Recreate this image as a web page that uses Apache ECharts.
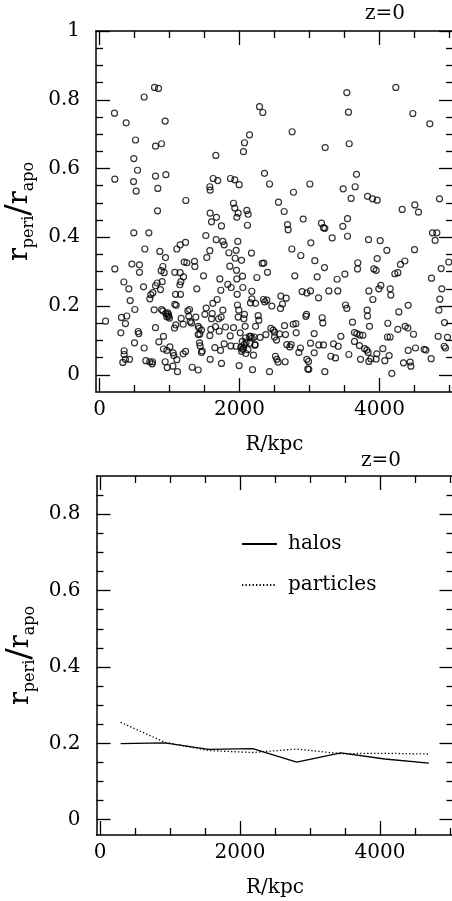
<!DOCTYPE html>
<html>
<head>
<meta charset="utf-8">
<script src="https://cdn.jsdelivr.net/npm/echarts@6/dist/echarts.min.js"></script>
<style>html,body{margin:0;padding:0;background:#fff;}#c{width:452px;height:901px;}</style>
</head>
<body>
<div id="c"></div>
<script>
// ---- data ----
var haloPoints = [
[214,0.761],[381,0.733],[514,0.683],[638,0.808],[786,0.836],[843,0.833],[938,0.738],[800,0.665],[886,0.672],[490,0.629],[219,0.569],[543,0.595],[486,0.562],[524,0.534],[800,0.578],[948,0.582],[833,0.542],[1233,0.507],[1662,0.638],[1576,0.547],[1581,0.537],[1624,0.571],[1690,0.565],[1871,0.571],[1933,0.567],[1995,0.553],[2057,0.649],[2071,0.675],[2143,0.698],[2286,0.780],[2333,0.763],[2357,0.586],[2429,0.555],[2557,0.502],[2752,0.707],[2771,0.531],[3005,0.555],[3224,0.661],[3533,0.821],[3557,0.764],[3567,0.672],[3671,0.583],[3652,0.547],[3481,0.541],[3595,0.513],[3829,0.519],[3900,0.512],[3967,0.508],[4233,0.836],[4476,0.760],[4719,0.730],[4857,0.512],
[86,0.156],[219,0.308],[348,0.270],[305,0.122],[314,0.167],[390,0.171],[371,0.149],[352,0.070],[352,0.059],[333,0.036],[371,0.045],[429,0.045],[419,0.250],[438,0.216],[462,0.322],[490,0.413],[505,0.190],[500,0.093],[552,0.126],[562,0.120],[571,0.320],[571,0.298],[638,0.078],[629,0.256],[648,0.366],[662,0.041],[719,0.038],[752,0.032],[757,0.038],[705,0.413],[719,0.221],[733,0.233],[762,0.239],[781,0.189],[800,0.137],[800,0.259],[824,0.267],[829,0.477],[862,0.359],[881,0.303],[905,0.315],[895,0.271],[924,0.297],[871,0.248],[848,0.096],[886,0.190],[905,0.186],[914,0.112],[943,0.341],[948,0.178],[986,0.170],[962,0.169],[986,0.175],[914,0.075],[962,0.071],[1005,0.081],[938,0.038],[967,0.021],[1048,0.025],[1076,0.298],[1086,0.234],[1076,0.205],[1095,0.202],[1052,0.064],[1062,0.056],[1105,0.366],[1090,0.145],[1071,0.136],[1105,0.044],[1114,0.009],[1152,0.378],[1148,0.262],[1162,0.271],[1152,0.297],[1157,0.234],[1195,0.147],[1167,0.164],[1200,0.285],[1210,0.328],[1248,0.326],[1229,0.385],[1262,0.186],[1286,0.190],[1276,0.170],[1295,0.155],[1195,0.061],[1229,0.068],[1314,0.151],[1324,0.022],[1357,0.330],[1362,0.315],[1376,0.168],[1390,0.250],[1410,0.014],[1410,0.141],[1424,0.136],[1410,0.117],[1433,0.119],[1429,0.093],[1438,0.084],[1457,0.065],[1467,0.069],[1486,0.288],[1505,0.176],[1519,0.405],[1524,0.194],[1533,0.341],[1457,0.130],[1581,0.470],[1600,0.445],[1576,0.361],[1576,0.114],[1581,0.045],[1590,0.132],[1600,0.163],[1610,0.178],[1619,0.208],[1657,0.140],[1648,0.079],[1667,0.393],[1671,0.458],[1681,0.219],[1700,0.163],[1710,0.127],[1719,0.279],[1733,0.246],[1729,0.071],[1743,0.433],[1743,0.033],[1738,0.168],[1762,0.188],[1762,0.388],[1781,0.378],[1781,0.090],[1800,0.139],[1833,0.263],[1848,0.355],[1862,0.316],[1867,0.113],[1876,0.084],[1881,0.254],[1914,0.137],[1914,0.499],[1933,0.485],[1938,0.339],[1952,0.362],[1952,0.083],[1957,0.304],[1962,0.279],[1971,0.203],[1967,0.234],[1981,0.470],[1962,0.458],[1976,0.388],[1981,0.168],[1990,0.188],[1995,0.027],[2010,0.122],[2019,0.080],[2043,0.074],[2057,0.077],[2029,0.333],[2043,0.287],[2048,0.254],[2071,0.176],[2062,0.163],[2081,0.141],[2086,0.107],[2095,0.095],[2105,0.478],[2114,0.435],[2124,0.467],[2143,0.112],[2162,0.112],[2181,0.107],[2210,0.110],[2224,0.088],[2157,0.209],[2176,0.221],[2171,0.354],[2176,0.243],[2186,0.015],[2200,0.057],[2219,0.086],[2229,0.141],[2229,0.208],[2248,0.283],[2267,0.172],[2276,0.159],[2295,0.109],[2324,0.324],[2348,0.325],[2343,0.219],[2362,0.212],[2390,0.217],[2376,0.117],[2400,0.298],[2429,0.009],[2448,0.135],[2481,0.130],[2500,0.124],[2462,0.200],[2500,0.110],[2514,0.054],[2533,0.045],[2529,0.101],[2552,0.037],[2571,0.119],[2586,0.193],[2590,0.229],[2614,0.206],[2638,0.475],[2652,0.038],[2686,0.437],[2695,0.422],[2667,0.223],[2643,0.143],[2657,0.117],[2676,0.088],[2719,0.081],[2738,0.088],[2748,0.366],[2767,0.147],[2790,0.288],[2805,0.149],[2810,0.122],[2848,0.065],[2871,0.078],[2876,0.347],[2895,0.242],[2910,0.453],[2957,0.176],[2948,0.170],[2962,0.238],[2962,0.045],[2986,0.039],[2976,0.017],[2990,0.016],[3014,0.244],[3014,0.092],[3019,0.384],[3067,0.064],[3067,0.120],[3076,0.332],[3110,0.285],[3129,0.224],[3133,0.087],[3171,0.441],[3200,0.428],[3219,0.426],[3181,0.166],[3190,0.151],[3214,0.312],[3219,0.009],[3200,0.087],[3276,0.244],[3305,0.054],[3324,0.398],[3343,0.090],[3371,0.049],[3395,0.278],[3405,0.244],[3410,0.083],[3448,0.112],[3476,0.432],[3505,0.293],[3514,0.203],[3533,0.193],[3543,0.454],[3543,0.403],[3562,0.059],[3614,0.153],[3643,0.097],[3643,0.123],[3676,0.120],[3719,0.116],[3762,0.115],[3686,0.308],[3690,0.326],[3714,0.085],[3729,0.045],[3786,0.076],[3819,0.072],[3838,0.065],[3824,0.188],[3829,0.171],[3843,0.393],[3848,0.244],[3857,0.141],[3848,0.039],[3876,0.047],[3905,0.219],[3919,0.308],[3952,0.304],[3952,0.046],[3962,0.061],[3967,0.338],[3990,0.250],[4010,0.390],[4019,0.260],[4048,0.076],[4076,0.041],[4105,0.362],[4119,0.150],[4152,0.250],[4176,0.004],[4162,0.232],[4114,0.110],[4152,0.110],[4138,0.056],[4219,0.294],[4262,0.297],[4276,0.183],[4262,0.132],[4300,0.321],[4324,0.481],[4343,0.035],[4362,0.331],[4367,0.141],[4405,0.136],[4410,0.202],[4410,0.071],[4438,0.037],[4448,0.025],[4486,0.118],[4500,0.364],[4505,0.494],[4557,0.473],[4514,0.078],[4638,0.074],[4662,0.072],[4738,0.047],[4743,0.281],[4757,0.413],[4819,0.413],[4795,0.391],[4838,0.112],[4848,0.188],[4862,0.220],[4881,0.309],[4890,0.250],[4924,0.083],[4929,0.152],[4943,0.078],[4971,0.109],[4990,0.328],
[2030,0.068],[2065,0.088],[2090,0.062],[2120,0.073],[2150,0.092],[2040,0.097],[1000,0.165],[975,0.180]
];

var binR = [295, 924, 1553, 2182, 2811, 3440, 4069, 4698];
var halosMean = [0.199, 0.201, 0.184, 0.186, 0.151, 0.175, 0.159, 0.148];
var particlesMean = [0.255, 0.203, 0.181, 0.176, 0.185, 0.173, 0.174, 0.172];

var xTickLabels = [0, 2000, 4000];
var xMinorTicks = [500, 1000, 1500, 2500, 3000, 3500, 4500, 5000];
var yTickLabelsTop = [0, 0.2, 0.4, 0.6, 0.8, 1];
var yTickLabelsBottom = [0, 0.2, 0.4, 0.6, 0.8];
var yMinorTicks = [0.05, 0.1, 0.15, 0.25, 0.3, 0.35, 0.45, 0.5, 0.55, 0.65, 0.7, 0.75, 0.85, 0.9, 0.95];

// ---- styling ----
var FONT = 'DejaVu Serif';
var BLACK = '#000';

function lineData(ys) { return binR.map(function (x, i) { return [x, ys[i]]; }); }
function plain(v) { return String(v); }

function makeX(grid) {
  var base = { type: 'value', gridIndex: grid, min: -50, max: 5050, splitLine: { show: false } };
  return [
    Object.assign({}, base, {
      position: 'bottom',
      axisLine: { show: true, onZero: false, lineStyle: { color: BLACK, width: 1.5 } },
      axisTick: { show: true, inside: true, length: 14, customValues: xTickLabels, lineStyle: { color: BLACK, width: 1.3 } },
      axisLabel: { show: true, customValues: xTickLabels, formatter: plain, margin: 8, color: BLACK, fontFamily: FONT, fontSize: 20 },
      name: 'R/kpc', nameLocation: 'middle', nameGap: 43,
      nameTextStyle: { color: BLACK, fontFamily: FONT, fontSize: 20 }
    }),
    Object.assign({}, base, {
      position: 'bottom',
      axisLine: { show: false, onZero: false },
      axisTick: { show: true, inside: true, length: 7, customValues: xMinorTicks, lineStyle: { color: BLACK, width: 1.3 } },
      axisLabel: { show: false }
    }),
    Object.assign({}, base, {
      position: 'top',
      axisLine: { show: true, onZero: false, lineStyle: { color: BLACK, width: 1.5 } },
      axisTick: { show: true, inside: true, length: 14, customValues: xTickLabels, lineStyle: { color: BLACK, width: 1.3 } },
      axisLabel: { show: false }
    }),
    Object.assign({}, base, {
      position: 'top',
      axisLine: { show: false, onZero: false },
      axisTick: { show: true, inside: true, length: 7, customValues: xMinorTicks, lineStyle: { color: BLACK, width: 1.3 } },
      axisLabel: { show: false }
    })
  ];
}

function makeY(grid, min, max, labels) {
  var base = { type: 'value', gridIndex: grid, min: min, max: max, splitLine: { show: false } };
  var minor = yMinorTicks.filter(function (v) { return v < max; });
  return [
    Object.assign({}, base, {
      position: 'left',
      axisLine: { show: true, onZero: false, lineStyle: { color: BLACK, width: 1.5 } },
      axisTick: { show: true, inside: true, length: 14, customValues: labels, lineStyle: { color: BLACK, width: 1.3 } },
      axisLabel: { show: true, customValues: labels, formatter: plain, margin: 16, color: BLACK, fontFamily: FONT, fontSize: 20 },
      name: '{r|r}{s|peri}{sl|/}{r|r}{s|apo}', nameLocation: 'middle', nameRotate: 90, nameGap: 58,
      nameTextStyle: {
        color: BLACK, fontFamily: FONT, fontSize: 26,
        rich: {
          r: { fontFamily: FONT, fontSize: 27, lineHeight: 34, color: BLACK, verticalAlign: 'middle' },
          s: { fontFamily: FONT, fontSize: 16, lineHeight: 34, color: BLACK, verticalAlign: 'bottom' },
          sl: { fontFamily: FONT, fontSize: 34, lineHeight: 34, color: BLACK, verticalAlign: 'middle' }
        }
      }
    }),
    Object.assign({}, base, {
      position: 'left',
      axisLine: { show: false, onZero: false },
      axisTick: { show: true, inside: true, length: 7, customValues: minor, lineStyle: { color: BLACK, width: 1.3 } },
      axisLabel: { show: false }
    }),
    Object.assign({}, base, {
      position: 'right',
      axisLine: { show: true, onZero: false, lineStyle: { color: BLACK, width: 1.5 } },
      axisTick: { show: true, inside: true, length: 14, customValues: labels, lineStyle: { color: BLACK, width: 1.3 } },
      axisLabel: { show: false }
    }),
    Object.assign({}, base, {
      position: 'right',
      axisLine: { show: false, onZero: false },
      axisTick: { show: true, inside: true, length: 7, customValues: minor, lineStyle: { color: BLACK, width: 1.3 } },
      axisLabel: { show: false }
    })
  ];
}

var chart = echarts.init(document.getElementById('c'), null, { renderer: 'canvas' });
chart.setOption({
  animation: false,
  backgroundColor: '#fff',
  grid: [
    { left: 96, top: 31, width: 357, height: 361, outerBoundsMode: 'none', containLabel: false },
    { left: 96.5, top: 476, width: 357, height: 359, outerBoundsMode: 'none', containLabel: false }
  ],
  xAxis: makeX(0).concat(makeX(1)),
  yAxis: makeY(0, -0.05, 1, yTickLabelsTop).concat(makeY(1, -0.04, 0.9, yTickLabelsBottom)),
  legend: {
    data: ['halos', 'particles'],
    orient: 'vertical',
    left: 236, top: 529,
    itemWidth: 35, itemHeight: 20, itemGap: 21,
    selectedMode: false,
    itemStyle: { color: 'rgba(0,0,0,0)', borderWidth: 0, opacity: 0 },
    textStyle: { color: BLACK, fontFamily: FONT, fontSize: 20, padding: [0, 0, 0, 6] }
  },
  graphic: [
    { type: 'text', left: 365, top: 4, style: { text: 'z=0', font: '20px "DejaVu Serif"', fill: BLACK } },
    { type: 'text', left: 361, top: 451, style: { text: 'z=0', font: '20px "DejaVu Serif"', fill: BLACK } }
  ],
  series: [
    {
      type: 'scatter', xAxisIndex: 0, yAxisIndex: 0,
      data: haloPoints, symbol: 'circle', symbolSize: 6,
      itemStyle: { color: 'rgba(0,0,0,0)', borderColor: BLACK, borderWidth: 1.2 },
      silent: true
    },
    {
      name: 'halos', type: 'line', xAxisIndex: 4, yAxisIndex: 4,
      data: lineData(halosMean), symbol: 'none',
      lineStyle: { color: BLACK, width: 1.3, type: 'solid' },
      itemStyle: { color: BLACK }
    },
    {
      name: 'particles', type: 'line', xAxisIndex: 4, yAxisIndex: 4,
      data: lineData(particlesMean), symbol: 'none',
      lineStyle: { color: BLACK, width: 1.3, type: [1.3, 2.2] },
      itemStyle: { color: BLACK }
    }
  ]
});
</script>
</body>
</html>
